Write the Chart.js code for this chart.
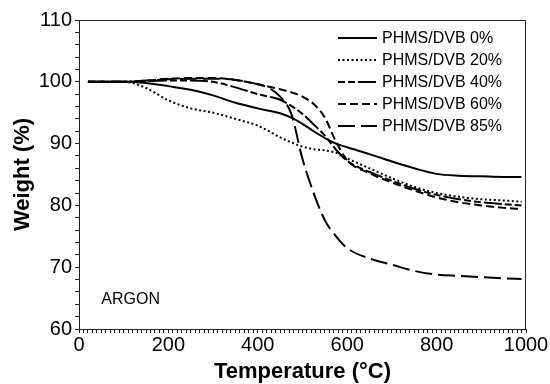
<!DOCTYPE html>
<html>
<head>
<meta charset="utf-8">
<script src="https://cdn.jsdelivr.net/npm/chart.js@4/dist/chart.umd.min.js"></script>
<style>
  html, body { margin: 0; padding: 0; background: #fff; }
  canvas { display: block; }
</style>
</head>
<body>
<canvas id="tga" width="550" height="384"></canvas>
<script>
// temperature points (°C), shared by all curves
const temps = [20, 100, 150, 200, 250, 300, 350, 400, 425, 450, 475, 500, 525, 550, 575, 600, 650, 700, 750, 800, 850, 900, 950, 990];

// weight (%)
const dvb0  = [100, 100, 99.8, 99.3, 98.7, 97.8, 96.6, 95.7, 95.3, 94.9, 94.2, 93.2, 92.0, 90.9, 90.0, 89.4, 88.3, 87.1, 86.0, 85.1, 84.8, 84.7, 84.6, 84.6];
const dvb20 = [100, 100, 99.0, 97.0, 95.7, 95.0, 94.0, 92.9, 92.0, 91.0, 90.2, 89.5, 89.1, 88.9, 88.5, 87.6, 86.0, 84.4, 83.0, 82.0, 81.4, 81.0, 80.8, 80.6];
const dvb40 = [100, 100, 100.1, 100.2, 100.2, 100.0, 99.1, 98.0, 97.6, 97.1, 96.1, 94.8, 93.1, 91.3, 89.0, 87.2, 85.4, 84.0, 82.7, 81.7, 81.0, 80.5, 80.2, 80.0];
const dvb60 = [100, 100, 100.2, 100.5, 100.6, 100.6, 100.3, 99.6, 99.2, 98.8, 98.3, 97.6, 96.4, 94.2, 90.3, 87.3, 85.2, 83.7, 82.4, 81.3, 80.5, 80.0, 79.6, 79.4];
const dvb85 = [100, 100, 100.2, 100.4, 100.5, 100.5, 100.3, 99.6, 99.0, 97.6, 94.8, 87.5, 82.0, 77.6, 75.0, 73.1, 71.4, 70.4, 69.4, 68.8, 68.6, 68.4, 68.2, 68.1];

const labels = ["PHMS/DVB 0%", "PHMS/DVB 20%", "PHMS/DVB 40%", "PHMS/DVB 60%", "PHMS/DVB 85%"];
const series = [dvb0, dvb20, dvb40, dvb60, dvb85];
const dashes = [[], [2, 2.5], [7, 3, 7, 3, 18, 3], [8, 4], [17, 6]];

const FONT = "'Liberation Sans', Arial, sans-serif";

// join temps + weights into {x,y}
function toPoints(ys) {
  return temps.map((t, i) => ({ x: t, y: ys[i] }));
}

// box round the plot, legend in the corner, ARGON note
const extrasPlugin = {
  id: 'extras',
  afterDatasetsDraw(chart) {
    const ctx = chart.ctx;
    const a = chart.chartArea;
    ctx.save();
    ctx.strokeStyle = '#222';
    ctx.lineWidth = 1;
    ctx.beginPath();
    ctx.moveTo(a.left, a.top + 0.5);
    ctx.lineTo(a.right - 0.5, a.top + 0.5);
    ctx.lineTo(a.right - 0.5, a.bottom);
    ctx.stroke();

    // legend
    ctx.font = '16px ' + FONT;
    ctx.textBaseline = 'middle';
    ctx.textAlign = 'left';
    chart.data.datasets.forEach((ds, i) => {
      let y = 38 + i * 22;
      ctx.strokeStyle = ds.borderColor;
      ctx.lineWidth = ds.borderWidth;
      ctx.setLineDash(ds.borderDash);
      ctx.beginPath();
      ctx.moveTo(338, y);
      ctx.lineTo(377, y);
      ctx.stroke();
      ctx.setLineDash([]);
      ctx.fillStyle = '#000';
      ctx.fillText(ds.label, 382, y + 1);
    });

    // ARGON
    let xs = chart.scales.x, ys = chart.scales.y;
    ctx.font = '16px ' + FONT;
    ctx.fillText('ARGON', xs.getPixelForValue(50), ys.getPixelForValue(64.8));
    ctx.restore();
  }
};

new Chart(document.getElementById('tga'), {
  type: 'line',
  data: {
    datasets: series.map((ys, i) => ({
      label: labels[i],
      data: toPoints(ys),
      borderColor: '#000',
      borderWidth: 2,
      borderDash: dashes[i],
      pointRadius: 0,
      fill: false,
      cubicInterpolationMode: 'monotone'
    }))
  },
  options: {
    responsive: false,
    animation: false,
    layout: { padding: { left: 0, right: 24, top: 20, bottom: 0 } },
    plugins: { legend: { display: false }, tooltip: { enabled: false } },
    scales: {
      x: {
        type: 'linear',
        min: 0, max: 1000,
        afterFit: s => { s.height = 55; },
        border: { color: '#222', width: 1 },
        grid: { drawOnChartArea: false, drawTicks: true, tickLength: 4, tickColor: '#222' },
        ticks: {
          stepSize: 10, maxTicksLimit: 200, autoSkip: false, maxRotation: 0,
          padding: 0, color: '#000', font: { family: FONT, size: 20 },
          callback: v => (Math.round(v) % 200 === 0 ? Math.round(v) : '')
        },
        title: {
          display: true, text: 'Temperature (°C)', color: '#000',
          font: { family: FONT, size: 22, weight: 'bold', lineHeight: 1.1 },
          padding: { top: 0, bottom: 0 }
        }
      },
      y: {
        min: 60, max: 110,
        afterFit: s => { s.width = 79; },
        border: { color: '#222', width: 1 },
        grid: { drawOnChartArea: false, drawTicks: true, tickLength: 4, tickColor: '#222' },
        ticks: {
          stepSize: 2, maxTicksLimit: 100, autoSkip: false,
          padding: 3, color: '#000', font: { family: FONT, size: 20 },
          callback: v => (Math.round(v) % 10 === 0 ? Math.round(v) : '')
        },
        title: {
          display: true, text: 'Weight (%)', color: '#000',
          font: { family: FONT, size: 22, weight: 'bold', lineHeight: 1.1 },
          padding: { top: 11, bottom: 0 }
        }
      }
    }
  },
  plugins: [extrasPlugin]
});
</script>
</body>
</html>
